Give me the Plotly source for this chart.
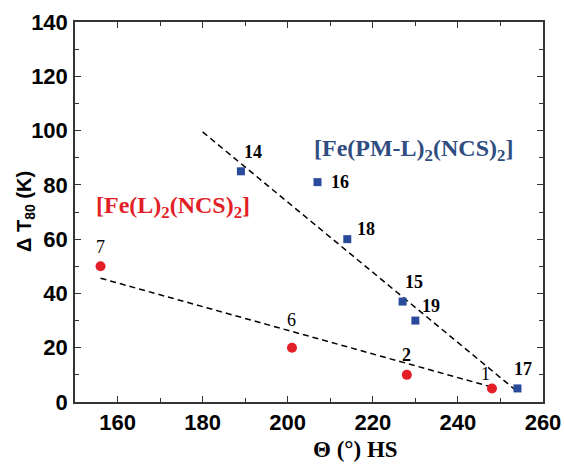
import plotly.graph_objects as go

# Data
red_x = [156, 201, 228, 248]
red_y = [50, 20, 10, 5]
red_lbl = ["7", "6", "2", "1"]
blue_x = [189, 207, 214, 227, 230, 254]
blue_y = [85, 81, 60, 37, 30, 5]
blue_lbl = ["14", "16", "18", "15", "19", "17"]
red_fit_x = [156, 248]
red_fit_y = [45.6, 5.5]
blue_fit_x = [180, 254]
blue_fit_y = [99.5, 3.8]
x_ticks = [160, 180, 200, 220, 240, 260]
y_ticks = [0, 20, 40, 60, 80, 100, 120, 140]

RED = "#E41E26"
BLUE = "#2A4B9B"
SERIF = "Liberation Serif"
SANS = "Liberation Sans"

W, H = 564, 464
L, R, T, B = 75, 21, 22, 62
PW, PH = W - L - R, H - T - B


def px_to_paper(px, py):
    return (px - L) / PW, (H - py - B) / PH


fig = go.Figure()
fig.add_trace(go.Scatter(x=red_fit_x, y=red_fit_y, mode="lines",
                         line=dict(color="black", width=1.5, dash="6px,4px"), showlegend=False))
fig.add_trace(go.Scatter(x=blue_fit_x, y=blue_fit_y, mode="lines",
                         line=dict(color="black", width=1.5, dash="6px,4px"), showlegend=False))
fig.add_trace(go.Scatter(x=red_x, y=red_y, mode="markers",
                         marker=dict(symbol="circle", size=10, color=RED), showlegend=False))
fig.add_trace(go.Scatter(x=blue_x, y=blue_y, mode="markers",
                         marker=dict(symbol="square", size=8, color=BLUE), showlegend=False))

red_off = [(0, 19), (0, 28), (0, 20), (-6, 14)]
red_bold = [False, False, True, False]
blue_off = [(12, 19), (22, 0), (19, 10), (11, 20), (16, 15), (6, 19)]
blue_bold = [True] * 6
for xs, ys, ls, offs, bolds in [(red_x, red_y, red_lbl, red_off, red_bold),
                                (blue_x, blue_y, blue_lbl, blue_off, blue_bold)]:
    for x, y, l, (dx, dy), bd in zip(xs, ys, ls, offs, bolds):
        fig.add_annotation(x=x, y=y, xref="x", yref="y", text=l, showarrow=False,
                           xshift=dx, yshift=dy,
                           font=dict(family=SERIF, size=18, color="black",
                                     weight="bold" if bd else "normal"))

fig.add_annotation(x=173, y=71.8, xref="x", yref="y", showarrow=False,
                   text="[Fe(L)<sub>2</sub>(NCS)<sub>2</sub>]",
                   font=dict(family=SERIF, size=24, color=RED, weight="bold"))
fig.add_annotation(x=229.6, y=92.8, xref="x", yref="y", showarrow=False,
                   text="[Fe(PM-L)<sub>2</sub>(NCS)<sub>2</sub>]",
                   font=dict(family=SERIF, size=24, color="#2F4D80", weight="bold"))

# x-axis title (anchored to the axis, positioned like the reference)
fig.add_annotation(x=216, y=0, xref="x", yref="y", showarrow=False,
                   xanchor="center", yanchor="middle", yshift=-47,
                   text="Θ (°) HS",
                   font=dict(family="Liberation Serif, DejaVu Serif, serif", size=23,
                             color="black", weight="bold"))
xt, yt = px_to_paper(25, 212)
fig.add_annotation(x=xt, y=yt, xref="paper", yref="paper", showarrow=False, textangle=-90,
                   xanchor="center", yanchor="middle",
                   text="Δ T<sub>80</sub> (K)",
                   font=dict(family=SANS, size=20, color="black", weight="bold"))

axis_common = dict(showline=True, linecolor="#333", linewidth=1.5, mirror="ticks",
                   ticks="inside", ticklen=6, tickwidth=1.2, tickcolor="#333",
                   showgrid=False, zeroline=False, automargin=False,
                   tickfont=dict(family=SANS, size=22, color="black", weight="bold"))

fig.update_layout(
    width=W, height=H,
    margin=dict(l=L, r=R, t=T, b=B, autoexpand=False),
    paper_bgcolor="white", plot_bgcolor="white",
    xaxis=dict(range=[150, 260], tickvals=x_ticks,
               minor=dict(ticks="inside", ticklen=4, tickwidth=1.2, tickcolor="#333",
                          tick0=150, dtick=10, showgrid=False),
               **axis_common),
    yaxis=dict(range=[0, 140], tickvals=y_ticks, ticklabelstandoff=1,
               minor=dict(ticks="inside", ticklen=4, tickwidth=1.2, tickcolor="#333",
                          tick0=0, dtick=10, showgrid=False),
               **axis_common),
)

fig.write_html("out.html", config={"displayModeBar": False},
               post_script="document.body.style.margin='0';")
